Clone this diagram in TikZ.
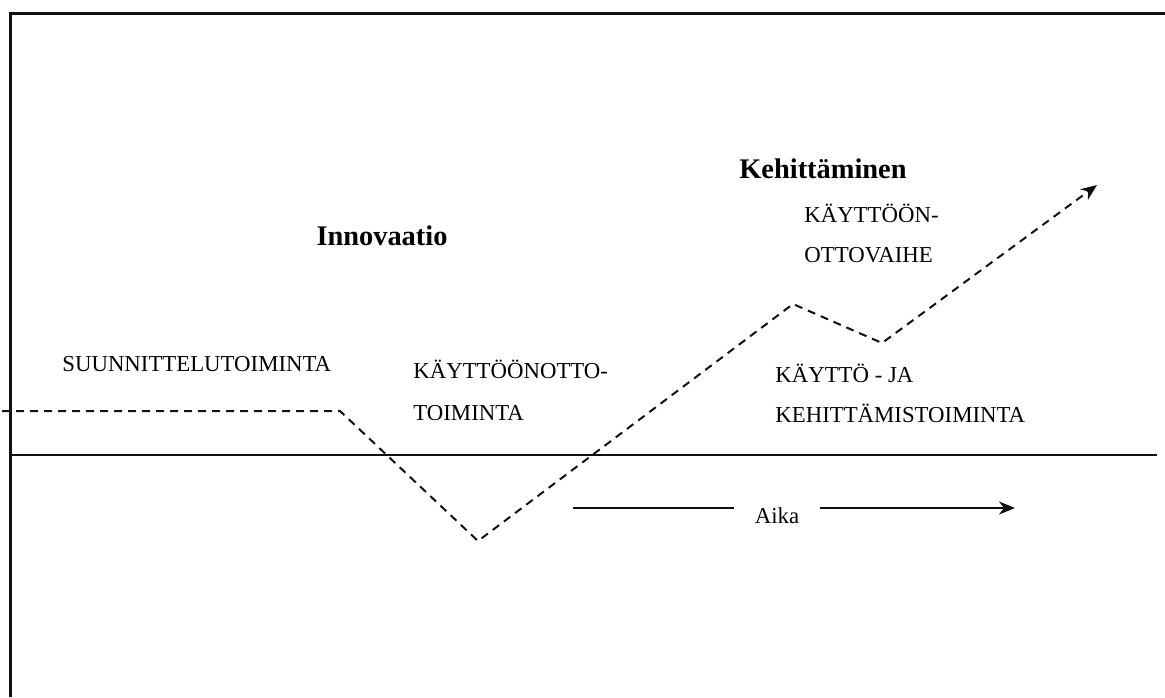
\documentclass[tikz,border=0pt]{standalone}
\usepackage{fontspec}
\setmainfont{Liberation Serif}
\usepackage{tikz}
\usetikzlibrary{arrows.meta,positioning}
\definecolor{inkdark}{HTML}{111111}

\begin{document}
\begin{tikzpicture}[x=0.5pt, y=-0.5pt, >={Stealth[length=8pt, width=6.5pt, inset=2.5pt]},
    phase/.style={font=\fontsize{11.4}{20}\selectfont, align=left, anchor=base west, inner sep=0pt},
    heading/.style={font=\fontsize{14.2}{17}\selectfont\bfseries, anchor=base, inner sep=0pt}]
  \useasboundingbox (0,0) rectangle (1165,697);

  % Frame and time axis
  \draw[line width=1.5pt, color=inkdark] (10.5,697) -- (10.5,13) -- (1165,13);
  \coordinate (axisL) at (10.5,455);
  \coordinate (axisR) at (1157,455);
  \draw[line width=1pt, color=inkdark] (axisL) -- (axisR);

  % Headings
  \node[heading] (innov) at (382,245) {Innovaatio};
  \node[heading] (kehit) at (823,178) {Kehittäminen};

  % Phase labels (base = last line)
  \node[phase] (suunn) at (62,371) {SUUNNITTELUTOIMINTA};
  \node[phase, font=\fontsize{11.4}{21}\selectfont] (kaytto) at (413,420) {KÄYTTÖÖNOTTO-\\TOIMINTA};
  \node[phase] (kayttoke) at (775,422) {KÄYTTÖ - JA\\KEHITTÄMISTOIMINTA};
  \node[phase] (ottov) at (804,262) {KÄYTTÖÖN-\\OTTOVAIHE};

  % Dashed development curve
  \coordinate (d0) at (2,411);
  \coordinate (d1) at (340,411);
  \coordinate (d2) at (478,541);
  \coordinate (d3) at (793,304);
  \coordinate (d4) at (882,343);
  \coordinate (d5) at (1097,185);
  \draw[->, line width=1pt, dash pattern=on 4pt off 3pt, color=inkdark]
    (d0) -- (d1) -- (d2) -- (d3) -- (d4) -- (d5);

  % Time arrow
  \node[font=\fontsize{11.4}{14}\selectfont, inner xsep=10pt, inner ysep=0pt, anchor=base] (aika) at (777,523) {Aika};
  \coordinate (timeL) at (573,508);
  \coordinate (timeR) at (1015,508);
  \draw[line width=1pt, color=inkdark] (timeL) -- (aika.west |- timeL);
  \draw[->, line width=1pt, color=inkdark] (aika.east |- timeR) -- (timeR);
\end{tikzpicture}
\end{document}
